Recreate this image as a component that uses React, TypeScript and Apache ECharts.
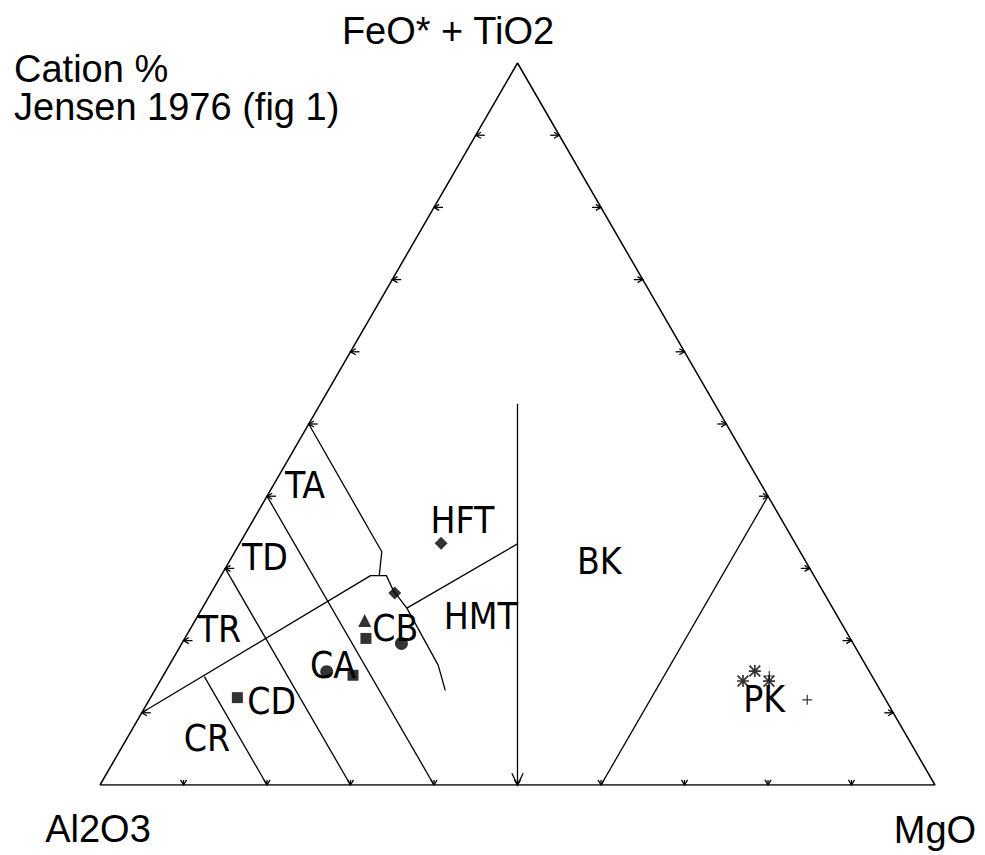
import React, { useEffect, useRef } from "react";
import * as echarts from "echarts";

// Ternary compositions: [Al2O3, FeO*+TiO2, MgO] (cation %)
type Tern = [number, number, number];

const apexAl = "Al2O3";
const apexFe = "FeO* + TiO2";
const apexMg = "MgO";
const noteLines = ["Cation %", "Jensen 1976 (fig 1)"];

const tickPercents = [10, 20, 30, 40, 50, 60, 70, 80, 90];

const frameLine: Tern[] = [[100, 0, 0], [0, 100, 0], [0, 0, 100], [100, 0, 0]];
const lineTA: Tern[] = [[50, 50, 0], [50.1, 32.3, 17.6], [52.0, 29.1, 18.9]];
const lineThCa: Tern[] = [
  [90, 10, 0], [53.1, 29.0, 17.9], [51.2, 29.0, 19.8], [51.4, 27.0, 21.6],
  [51.0, 24.5, 24.5], [51.2, 16.6, 32.2], [52.1, 13.1, 34.8],
];
const lineHftHmt: Tern[] = [[51.0, 24.5, 24.5], [33.3, 33.4, 33.3]];
const lineKomatiite: Tern[] = [[50, 0, 50], [23.6, 52.8, 23.6]];
const lineAl60: Tern[] = [[60, 40, 0], [60, 0, 40]];
const lineAl70: Tern[] = [[70, 30, 0], [70, 0, 30]];
const lineAl80: Tern[] = [[80, 15, 5], [80, 0, 20]];
const lineMg60: Tern[] = [[40, 0, 60], [0, 40, 60]];
const arrowTips: Tern[] = [[50, 0, 50]];

const fieldNames = ["TA", "TD", "TR", "CR", "CD", "CA", "CB", "HFT", "HMT", "BK", "PK"];
const fieldPos: Tern[] = [
  [54.7, 41.5, 3.8], [64.5, 31.5, 4.0], [74.9, 21.6, 3.5], [84.0, 6.4, 9.6],
  [73.7, 11.5, 14.8], [63.8, 16.6, 19.6], [53.8, 21.7, 24.5], [38.3, 36.6, 25.1],
  [42.7, 23.4, 33.9], [24.7, 31.0, 44.3], [14.5, 11.9, 73.6],
];

const diamonds: Tern[] = [[42.4, 33.5, 24.1], [51.4, 26.6, 22.0]];
const triangles: Tern[] = [[56.9, 22.8, 20.3]];
const squares: Tern[] = [[58.0, 20.3, 21.7], [62.1, 15.2, 22.7], [77.5, 12.1, 10.4]];
const circles: Tern[] = [[54.1, 19.6, 26.3], [65.0, 15.7, 19.3]];
const asterisks: Tern[] = [[15.8, 14.4, 69.8], [13.7, 15.8, 70.6], [12.7, 14.4, 73.0]];
const pluses: Tern[] = [[12.3, 15.1, 72.6], [9.4, 11.8, 78.8]];

const H3 = Math.sqrt(3) / 2;
function toXY(p: Tern): [number, number] {
  const s = p[0] + p[1] + p[2];
  return [(p[2] + p[1] / 2) / s, (p[1] / s) * H3];
}

const ASTERISK =
  "path://M0 8.6H20V11.4H0Z M8.6 0H11.4V20H8.6Z M2 0L20 18L18 20L0 2Z M18 0L20 2L2 20L0 18Z";
const PLUS = "path://M0 8.8H20V11.2H0Z M8.8 0H11.2V20H8.8Z";

const BLACK = "#000";
const TITLE_FONT = "'Liberation Sans', Arial, Helvetica, sans-serif";
const FIELD_FONT =
  "'Liberation Sans Narrow', 'Arial Narrow', 'DejaVu Sans Condensed', 'Liberation Sans', sans-serif";

function arrowChildren(x: number, y: number, dx: number, dy: number, stem: number, head: number, ang: number) {
  const bx = -dx, by = -dy;
  const c = Math.cos(ang), s = Math.sin(ang);
  const b1 = [x + head * (bx * c - by * s), y + head * (bx * s + by * c)];
  const b2 = [x + head * (bx * c + by * s), y + head * (-bx * s + by * c)];
  const kids: any[] = [
    { type: "polyline", shape: { points: [b1, [x, y], b2] }, style: { stroke: BLACK, fill: null, lineWidth: 1.3 } },
  ];
  if (stem > 0) {
    kids.push({
      type: "line",
      shape: { x1: x - dx * stem, y1: y - dy * stem, x2: x, y2: y },
      style: { stroke: BLACK, lineWidth: 1.3 },
    });
  }
  return kids;
}

export default function App() {
  const ref = useRef<HTMLDivElement>(null);
  useEffect(() => {
    const chart = echarts.init(ref.current!, null, { renderer: "svg" });

    const lineSeries = (pts: Tern[], w = 1.3) => ({
      type: "line",
      data: pts.map(toXY),
      symbol: "none",
      showSymbol: false,
      silent: true,
      lineStyle: { color: BLACK, width: w },
      z: 2,
    });

    const ticks: { p: Tern; d: [number, number] }[] = [];
    tickPercents.forEach((t) => {
      ticks.push({ p: [100 - t, 0, t], d: [0, 1] });
      ticks.push({ p: [100 - t, t, 0], d: [-1, 0] });
      ticks.push({ p: [0, t, 100 - t], d: [1, 0] });
    });

    const scatter = (pts: Tern[], symbol: string, size: number) => ({
      type: "scatter",
      data: pts.map(toXY),
      symbol,
      symbolSize: size,
      itemStyle: { color: BLACK },
      silent: true,
      z: 5,
    });

    chart.setOption({
      animation: false,
      backgroundColor: "#fff",
      grid: { left: 100, top: 63, width: 835, height: 722 },
      xAxis: { type: "value", min: 0, max: 1, show: false },
      yAxis: { type: "value", min: 0, max: H3, show: false },
      graphic: [
        {
          type: "text", x: 448, y: 31,
          style: { text: apexFe, fontSize: 38, fontFamily: TITLE_FONT, fill: BLACK, align: "center", verticalAlign: "middle" },
        },
        {
          type: "text", x: 98, y: 829,
          style: { text: apexAl, fontSize: 38, fontFamily: TITLE_FONT, fill: BLACK, align: "center", verticalAlign: "middle" },
        },
        {
          type: "text", x: 935, y: 830,
          style: { text: apexMg, fontSize: 38, fontFamily: TITLE_FONT, fill: BLACK, align: "center", verticalAlign: "middle" },
        },
        {
          type: "text", x: 14, y: 69,
          style: { text: noteLines[0], fontSize: 38, fontFamily: TITLE_FONT, fill: BLACK, align: "left", verticalAlign: "middle" },
        },
        {
          type: "text", x: 14, y: 107,
          style: { text: noteLines[1], fontSize: 38, fontFamily: TITLE_FONT, fill: BLACK, align: "left", verticalAlign: "middle" },
        },
      ],
      series: [
        lineSeries(frameLine, 1.5),
        lineSeries(lineTA),
        lineSeries(lineThCa),
        lineSeries(lineHftHmt),
        lineSeries(lineKomatiite),
        lineSeries(lineAl60),
        lineSeries(lineAl70),
        lineSeries(lineAl80),
        lineSeries(lineMg60),
        {
          type: "custom",
          silent: true,
          z: 3,
          data: ticks.map((t) => toXY(t.p)),
          renderItem: (params: any, api: any) => {
            const [x, y] = api.coord([api.value(0), api.value(1)]);
            const d = ticks[params.dataIndex].d;
            const stem = d[1] === 1 ? 5 : 9;
            return { type: "group", children: arrowChildren(x, y, d[0], d[1], stem, 6, Math.PI / 6) };
          },
        },
        {
          type: "custom",
          silent: true,
          z: 3,
          data: arrowTips.map(toXY),
          renderItem: (params: any, api: any) => {
            const [x, y] = api.coord([api.value(0), api.value(1)]);
            return { type: "group", children: arrowChildren(x, y, 0, 1, 0, 13, 0.45) };
          },
        },
        scatter(diamonds, "diamond", 13),
        scatter(triangles, "triangle", 13),
        scatter(squares, "rect", 11),
        scatter(circles, "circle", 13),
        scatter(asterisks, ASTERISK, 12),
        scatter(pluses, PLUS, 10),
        {
          type: "custom",
          silent: true,
          z: 4,
          data: fieldPos.map(toXY),
          renderItem: (params: any, api: any) => {
            const [x, y] = api.coord([api.value(0), api.value(1)]);
            return {
              type: "text",
              x,
              y,
              style: {
                text: fieldNames[params.dataIndex],
                fontSize: 37,
                fontFamily: FIELD_FONT,
                fill: BLACK,
                align: "center",
                verticalAlign: "middle",
              },
            };
          },
        },
      ],
    });
    return () => chart.dispose();
  }, []);
  return (
    <div
      ref={ref}
      style={{ position: "absolute", left: 0, top: 0, width: 985, height: 855, background: "#fff" }}
    />
  );
}
